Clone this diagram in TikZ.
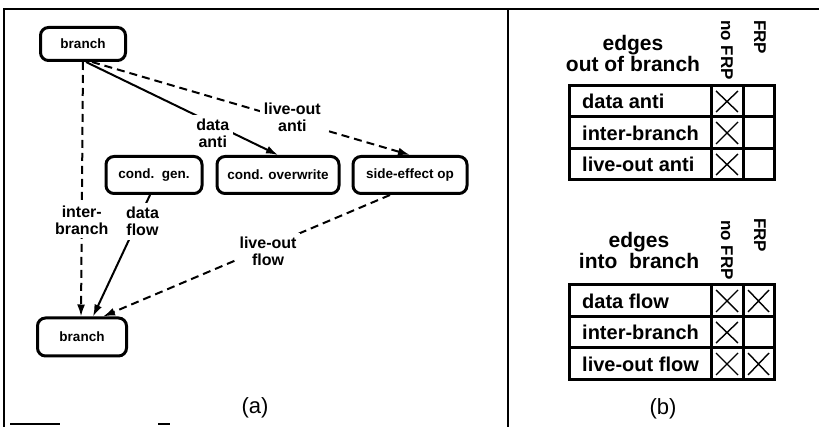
\documentclass[tikz,border=0pt]{standalone}
\usepackage{fontspec}
\setmainfont{Liberation Sans}
\usetikzlibrary{arrows.meta}

\begin{document}
\begin{tikzpicture}[x=1pt,y=-1pt,
  box/.style={draw, rounded corners=8pt, line width=3pt,
    font=\fontsize{13.5}{15}\selectfont\bfseries, inner sep=0pt},
  elab/.style={font=\fontsize{16}{17}\selectfont\bfseries, align=center,
    fill=white, inner sep=4pt},
  solidedge/.style={line width=2pt, -{Latex[length=12pt,width=8pt]}},
  dashedge/.style={solidedge, dash pattern=on 8pt off 5pt},
  frame/.style={line width=1.5pt},
  tbl/.style={line width=3pt},
  xmark/.style={line width=1.4pt},
  rowtext/.style={font=\fontsize{20}{22}\selectfont\bfseries, anchor=west, inner sep=0pt},
  hdr/.style={font=\fontsize{21}{21}\selectfont\bfseries, align=center, inner sep=0pt},
  colhdr/.style={font=\fontsize{17}{18}\selectfont\bfseries, rotate=-90, anchor=west, inner sep=0pt},
  captext/.style={font=\fontsize{22}{24}\selectfont, inner sep=0pt}
]
\useasboundingbox (0,0) rectangle (819,427);

% outer frame and the divider between the two parts
\draw[frame] (4,427) -- (4,9) -- (819,9);
\draw[frame] (508,9) -- (508,427);
\draw[frame] (10,424) -- (60,424);
\draw[frame] (158,424) -- (170,424);

% ---------- (a) dependence graph ----------
\node[box, minimum width=85pt, minimum height=33pt] (tb) at (83,44) {branch};
\node[box, minimum width=96pt, minimum height=37pt] (cg) at (154,175) {cond.\ \ gen.};
\node[box, minimum width=122pt, minimum height=37pt] (co) at (278,175) {cond. overwrite};
\node[box, minimum width=114pt, minimum height=37pt] (se) at (410,175) {side-effect op};
\node[box, minimum width=89pt, minimum height=38pt] (bb) at (82,337) {branch};

\draw[dashedge] (tb.south) -- node[elab, pos=0.62] {inter-\\branch} ([xshift=-1pt]bb.north);
\draw[solidedge] ([xshift=3pt]tb.south) -- node[elab, pos=0.66, yshift=-10pt] {data\\anti} (co.north);
\draw[dashedge] ([xshift=9pt]tb.south) -- node[elab, pos=0.63, yshift=3pt] {live-out\\anti} (se.north);
\draw[solidedge] ([xshift=-4pt]cg.south) -- node[elab, pos=0.22, xshift=5pt] {data\\flow} ([xshift=11pt]bb.north);
\draw[dashedge] ([xshift=-20pt]se.south) -- node[elab, pos=0.425, yshift=-5pt] {live-out\\flow} ([xshift=21pt]bb.north);

\node[captext] (capa) at (255,408) {(a)};

% ---------- (b) tables ----------
% edges out of branch
\node[hdr] (h1) at (633,53) {edges\\out of branch};
\node[colhdr] (nf1) at (727,20) {no FRP};
\node[colhdr] (f1) at (760,20) {FRP};
\draw[tbl] (569,86) rectangle (774,180);
\draw[tbl] (569,117) -- (774,117) (569,149) -- (774,149);
\draw[tbl] (711,86) -- (711,180) (743,86) -- (743,180);
\node[rowtext] (r11) at (582,101.5) {data anti};
\node[rowtext] (r12) at (582,133) {inter-branch};
\node[rowtext] (r13) at (582,164.5) {live-out anti};
\foreach \ya/\yb in {86/117, 117/149, 149/180}
  \draw[xmark] (716,\ya+5) -- (738,\yb-5) (716,\yb-5) -- (738,\ya+5);

% edges into branch
\node[hdr] (h2) at (639,250) {edges\\into\ \ branch};
\node[colhdr] (nf2) at (727,220) {no FRP};
\node[colhdr] (f2) at (760,218) {FRP};
\draw[tbl] (569,285) rectangle (774,380);
\draw[tbl] (569,317) -- (774,317) (569,348) -- (774,348);
\draw[tbl] (711,285) -- (711,380) (743,285) -- (743,380);
\node[rowtext] (r21) at (582,301) {data flow};
\node[rowtext] (r22) at (582,332.5) {inter-branch};
\node[rowtext] (r23) at (582,364) {live-out flow};
\foreach \ya/\yb in {285/317, 317/348, 348/380}
  \draw[xmark] (716,\ya+5) -- (738,\yb-5) (716,\yb-5) -- (738,\ya+5);
\foreach \ya/\yb in {285/317, 348/380}
  \draw[xmark] (748,\ya+5) -- (769,\yb-5) (748,\yb-5) -- (769,\ya+5);

\node[captext] (capb) at (663,409) {(b)};
\end{tikzpicture}
\end{document}
